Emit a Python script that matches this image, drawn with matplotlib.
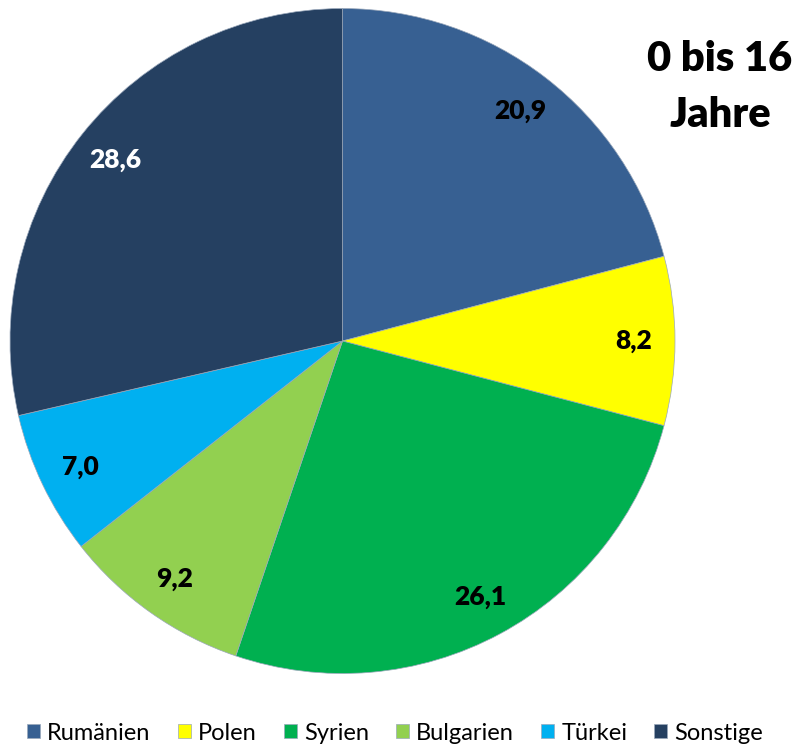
import matplotlib.pyplot as plt

# Anteile 0 bis 16 Jahre (in %)
laender = ['Rumänien', 'Polen', 'Syrien', 'Bulgarien', 'Türkei', 'Sonstige']
anteile = [20.9, 8.2, 26.1, 9.2, 7.0, 28.6]
farben = ['#376092', '#FFFF00', '#00B050', '#92D050', '#00B0F0', '#254061']
label_farben = ['black', 'black', 'black', 'black', 'black', 'white']

plt.rcParams['font.family'] = ['Lato', 'DejaVu Sans']

fig = plt.figure(figsize=(8.05, 7.47), dpi=100)
ax = fig.add_axes([10 / 805, 73.5 / 747, 665 / 805, 665 / 747])

wedges, texts, autotexts = ax.pie(
    anteile, colors=farben, startangle=90, counterclock=False,
    autopct=lambda p: f'{p:.1f}'.replace('.', ','), pctdistance=0.875,
    wedgeprops=dict(linewidth=0.5, edgecolor='#9aa8bb'),
    textprops=dict(fontsize=19, fontweight='heavy'))
for t, c in zip(autotexts, label_farben):
    t.set_color(c)
ax.set_xlim(-1, 1)
ax.set_ylim(-1, 1)
ax.set_aspect('equal')

fig.text(720 / 805, 1 - 87 / 747, '0 bis 16\nJahre', ha='center', va='center',
         fontsize=30, fontweight='heavy', linespacing=1.55)

fig.legend(wedges, laender, loc='center left', bbox_to_anchor=(6 / 805, 14 / 747),
           ncol=6, frameon=False, handlelength=0.55, handleheight=0.55,
           handletextpad=0.3, columnspacing=1.15, prop=dict(size=17))

fig.savefig('out.png', dpi=100)
